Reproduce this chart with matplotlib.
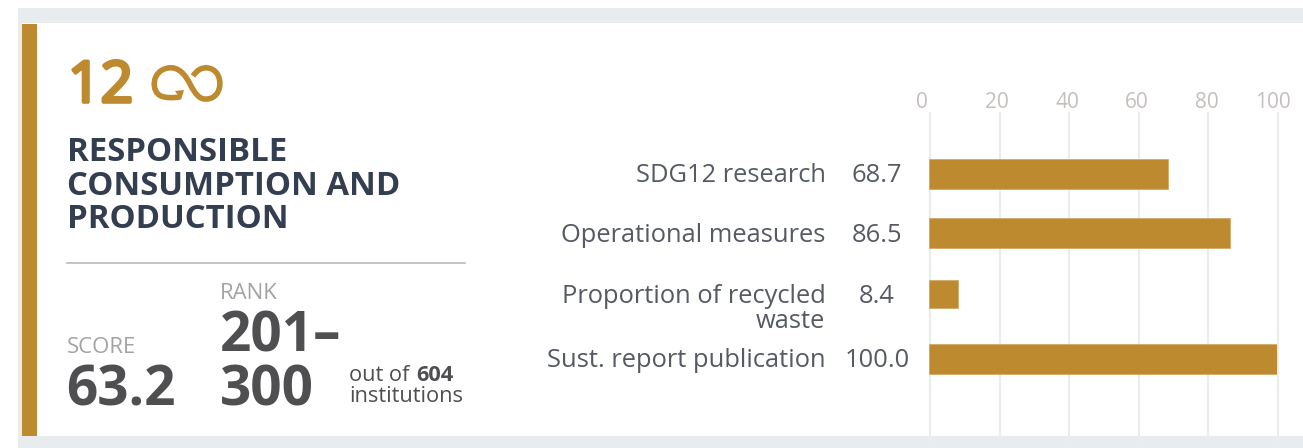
import matplotlib
matplotlib.use("Agg")
import matplotlib.pyplot as plt
import matplotlib.patheffects as pe
from matplotlib.patches import Rectangle, Polygon, PathPatch
from matplotlib.path import Path

categories = ["SDG12 research", "Operational measures", "Proportion of recycled", "Sust. report publication"]
values = [68.7, 86.5, 8.4, 100.0]
value_labels = ["68.7", "86.5", "8.4", "100.0"]
ticks = [0, 20, 40, 60, 80, 100]
tick_px = [922, 997, 1067, 1137, 1207, 1273]

W, H = 1303, 448
GOLD = "#bd8a2f"
GREY = "#e8ecef"
NAVY = "#333f50"
DARK = "#4f4f52"
LABEL = "#555a64"
LIGHT = "#a3a3a6"
plt.rcParams["font.family"] = ["Open Sans", "DejaVu Sans"]

fig = plt.figure(figsize=(W / 100, H / 100), dpi=100, facecolor="white")
bg = fig.add_axes([0, 0, 1, 1])
bg.set_xlim(0, W); bg.set_ylim(H, 0); bg.axis("off")
bg.add_patch(Rectangle((18, 8), W - 18, 15.5, fc=GREY, ec="none"))
bg.add_patch(Rectangle((18, 23), 4, 413, fc=GREY, ec="none"))
bg.add_patch(Rectangle((18, 436), W - 18, 12, fc=GREY, ec="none"))
bg.add_patch(Rectangle((22.3, 23.7), 14.4, 412.3, fc=GOLD, ec="none"))

top, bottom = 113, 448


def panel(x0, x1):
    a = fig.add_axes([x0 / W, 1 - bottom / H, (x1 - x0) / W, (bottom - top) / H])
    a.patch.set_alpha(0)
    a.set_xlim(0, 100); a.set_ylim(bottom, top)
    for s in a.spines.values():
        s.set_visible(False)
    a.tick_params(left=False, bottom=False, labelleft=False, labelbottom=False)
    a.set_xticks(ticks); a.set_yticks([])
    return a


grid_ax = panel(930, 1277.7)
grid_ax.grid(axis="x", color="#ececec", lw=1.5, zorder=0, clip_on=False)
ax = panel(928.6, 1276.6)
row_y = [174, 233, 294, 359]
row_h = [30, 30, 28, 30]
ax.barh(row_y, values, height=row_h, color=GOLD, edgecolor="#cfa55c", lw=0.5, zorder=3)

for t, px in zip(ticks, tick_px):
    bg.text(px, 108, str(t), fontsize=15, color="#c4bfbc", ha="center", va="baseline")
baselines = [182, 242, 303, 367]
for y, c, v in zip(baselines, categories, value_labels):
    bg.text(825.5, y, c, fontsize=18.4, color=LABEL, ha="right", va="baseline")
    bg.text(877, y, v, fontsize=18.4, color=LABEL, ha="center", va="baseline")
bg.text(825.5, 328, "waste", fontsize=18.4, color=LABEL, ha="right", va="baseline")

bg.text(68, 102, "12", fontsize=41, color=GOLD, ha="left", va="baseline",
        path_effects=[pe.withStroke(linewidth=2.6, foreground=GOLD)])
# infinity-loop icon
M, C = Path.MOVETO, Path.CURVE4
icon = Path(
    [(180, 97), (172, 98), (166, 98), (161, 96),
     (151, 92), (151, 71), (168, 68),
     (179, 66), (186, 76), (190, 84),
     (195, 94), (200, 100), (207, 99),
     (224, 98), (224, 70), (208, 68),
     (202, 67), (197, 70), (193, 76)],
    [M, C, C, C, C, C, C, C, C, C, C, C, C, C, C, C, C, C, C],
)
bg.add_patch(PathPatch(icon, fc="none", ec=GOLD, lw=4, capstyle="butt"))
bg.add_patch(Polygon([(175, 91), (184, 90), (181, 100)], fc=GOLD, ec="none"))

for y, line in zip([161, 195, 228], ["RESPONSIBLE", "CONSUMPTION AND", "PRODUCTION"]):
    bg.text(67, y, line, fontsize=23.7, fontweight="bold", color=NAVY, ha="left", va="baseline")
bg.plot([66.5, 465], [263.5, 263.5], color="#b9b9b9", lw=1.2)

bg.text(67, 353, "SCORE", fontsize=15.9, color=LIGHT, ha="left", va="baseline")
bg.text(66, 406, "63.2", fontsize=39.5, fontweight="bold", color=DARK, ha="left", va="baseline")
bg.text(220, 299, "RANK", fontsize=15.9, color=LIGHT, ha="left", va="baseline")
bg.text(220, 352, "201–", fontsize=39.5, fontweight="bold", color=DARK, ha="left", va="baseline")
bg.text(220, 406, "300", fontsize=39.5, fontweight="bold", color=DARK, ha="left", va="baseline")
bg.text(349, 381, "out of", fontsize=15.7, color=DARK, ha="left", va="baseline")
bg.text(416, 381, "604", fontsize=15.7, fontweight="bold", color=DARK, ha="left", va="baseline")
bg.text(349, 402, "institutions", fontsize=15.7, color=DARK, ha="left", va="baseline")

fig.savefig("out.png", dpi=100)
